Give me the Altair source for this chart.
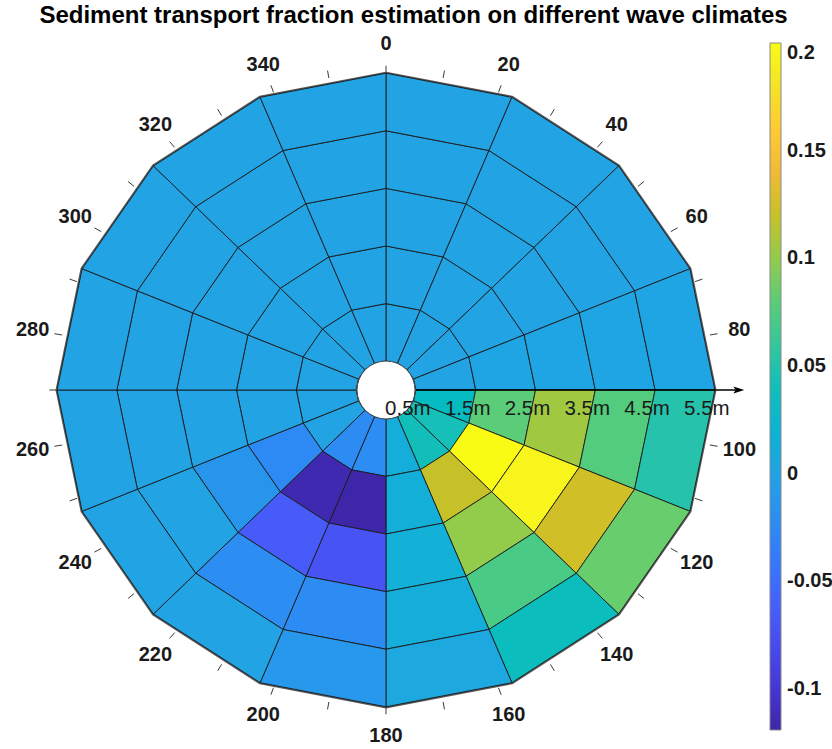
import math
import altair as alt
import pandas as pd

# Wave-direction sectors (degrees clockwise from north) and wave-height ring edges (m)
sector_start = [i * 22.5 for i in range(16)]
sector_width = 22.5
height_edges = [0.5, 1.5, 2.5, 3.5, 4.5, 5.5]
height_labels = ["0.5m", "1.5m", "2.5m", "3.5m", "4.5m", "5.5m"]

# Transport fraction per sector (rows) and wave-height bin (columns: 1, 2, 3, 4, 5 m)
fraction = [
    [0.000, 0.000, 0.000, 0.000, 0.000],      # 0 - 22.5
    [0.000, 0.000, 0.000, 0.000, 0.000],      # 22.5 - 45
    [0.000, 0.000, 0.000, 0.000, 0.000],      # 45 - 67.5
    [0.000, 0.003, 0.003, 0.003, 0.003],      # 67.5 - 90
    [0.035, 0.080, 0.105, 0.077, 0.050],      # 90 - 112.5
    [0.042, 0.200, 0.195, 0.124, 0.085],      # 112.5 - 135
    [0.040, 0.120, 0.100, 0.073, 0.038],      # 135 - 157.5
    [0.014, 0.015, 0.016, 0.014, 0.006],      # 157.5 - 180
    [-0.022, -0.119, -0.073, -0.024, -0.012], # 180 - 202.5
    [-0.024, -0.115, -0.066, -0.022, 0.000],  # 202.5 - 225
    [0.000, -0.025, -0.014, 0.000, 0.000],    # 225 - 247.5
    [0.000, 0.000, 0.000, 0.000, 0.000],      # 247.5 - 270
    [0.000, 0.000, 0.000, 0.000, 0.000],      # 270 - 292.5
    [0.000, 0.000, 0.000, 0.000, 0.000],      # 292.5 - 315
    [0.000, 0.000, 0.000, 0.000, 0.000],      # 315 - 337.5
    [0.000, 0.000, 0.000, 0.000, 0.000],      # 337.5 - 360
]

angle_ticks = list(range(0, 360, 10))
angle_labels = list(range(0, 360, 20))
colorbar_ticks = [-0.1, -0.05, 0, 0.05, 0.1, 0.15, 0.2]
color_domain = [-0.119, 0.2]

# parula colormap, 64 entries
parula = [
    (0.2422, 0.1504, 0.6603), (0.2504, 0.1650, 0.7076), (0.2578, 0.1818, 0.7511), (0.2647, 0.1978, 0.7952),
    (0.2706, 0.2147, 0.8364), (0.2751, 0.2342, 0.8710), (0.2783, 0.2559, 0.8991), (0.2803, 0.2782, 0.9221),
    (0.2813, 0.3006, 0.9414), (0.2810, 0.3228, 0.9579), (0.2795, 0.3447, 0.9717), (0.2760, 0.3667, 0.9829),
    (0.2699, 0.3892, 0.9906), (0.2602, 0.4123, 0.9952), (0.2440, 0.4358, 0.9988), (0.2206, 0.4603, 0.9973),
    (0.1963, 0.4847, 0.9892), (0.1834, 0.5074, 0.9798), (0.1786, 0.5289, 0.9682), (0.1764, 0.5499, 0.9520),
    (0.1687, 0.5703, 0.9359), (0.1540, 0.5902, 0.9218), (0.1460, 0.6091, 0.9079), (0.1380, 0.6276, 0.8973),
    (0.1248, 0.6459, 0.8883), (0.1113, 0.6635, 0.8763), (0.0952, 0.6798, 0.8598), (0.0689, 0.6948, 0.8394),
    (0.0297, 0.7082, 0.8163), (0.0036, 0.7203, 0.7917), (0.0067, 0.7312, 0.7660), (0.0433, 0.7411, 0.7394),
    (0.0964, 0.7500, 0.7120), (0.1408, 0.7584, 0.6842), (0.1717, 0.7670, 0.6554), (0.1938, 0.7758, 0.6251),
    (0.2161, 0.7843, 0.5923), (0.2470, 0.7918, 0.5567), (0.2906, 0.7973, 0.5188), (0.3406, 0.8008, 0.4789),
    (0.3909, 0.8029, 0.4354), (0.4456, 0.8024, 0.3909), (0.5044, 0.7993, 0.3480), (0.5616, 0.7942, 0.3045),
    (0.6174, 0.7876, 0.2612), (0.6720, 0.7793, 0.2227), (0.7242, 0.7698, 0.1910), (0.7738, 0.7598, 0.1646),
    (0.8203, 0.7498, 0.1535), (0.8634, 0.7406, 0.1596), (0.9035, 0.7330, 0.1774), (0.9393, 0.7288, 0.2100),
    (0.9728, 0.7298, 0.2394), (0.9956, 0.7434, 0.2371), (0.9970, 0.7659, 0.2199), (0.9952, 0.7893, 0.2028),
    (0.9892, 0.8136, 0.1885), (0.9786, 0.8386, 0.1766), (0.9676, 0.8639, 0.1643), (0.9610, 0.8890, 0.1537),
    (0.9597, 0.9135, 0.1423), (0.9628, 0.9373, 0.1265), (0.9691, 0.9606, 0.1064), (0.9769, 0.9839, 0.0805),
]
parula_hex = ["#%02x%02x%02x" % tuple(int(round(c * 255)) for c in rgb) for rgb in parula]

FONT = "Liberation Sans"
label_radius = 6.0
tick_inner, tick_outer = 5.5, 5.63
axis_end = 5.9


def polar(r, deg):
    a = math.radians(deg)
    return r * math.sin(a), r * math.cos(a)


# one closed polygon per (sector, height bin) cell
cell_rows = []
for s, a0 in enumerate(sector_start):
    a1 = a0 + sector_width
    for j in range(len(height_edges) - 1):
        r0, r1 = height_edges[j], height_edges[j + 1]
        corners = [(r0, a0), (r1, a0), (r1, a1), (r0, a1), (r0, a0)]
        for k, (r, a) in enumerate(corners):
            x, y = polar(r, a)
            cell_rows.append({"cell": f"{s}-{j}", "k": k, "x": x, "y": y,
                              "value": fraction[s][j]})
cells_df = pd.DataFrame(cell_rows)

outline_rows = []
for k, a in enumerate(sector_start + [360.0]):
    x, y = polar(height_edges[-1], a)
    outline_rows.append({"k": k, "x": x, "y": y})
outline_df = pd.DataFrame(outline_rows)

tick_rows = []
for a in angle_ticks:
    xa, ya = polar(tick_inner, a)
    xb, yb = polar(tick_outer, a)
    tick_rows.append({"x": xa, "y": ya, "x2": xb, "y2": yb})
ticks_df = pd.DataFrame(tick_rows)

alabel_rows = []
for a in angle_labels:
    x, y = polar(label_radius, a)
    alabel_rows.append({"x": x, "y": y, "text": str(a)})
alabels_df = pd.DataFrame(alabel_rows)

rlabels_df = pd.DataFrame({"x": height_edges, "y": [0.0] * len(height_edges),
                           "text": height_labels})

shaft_df = pd.DataFrame({"x": [height_edges[0]], "y": [0.0], "x2": [axis_end], "y2": [0.0]})
head_df = pd.DataFrame({"x": [axis_end], "y": [0.0]})
hole_df = pd.DataFrame({"x": [0.0], "y": [0.0]})

xs = alt.Scale(domain=[-6, 6], nice=False, zero=False)
ys = alt.Scale(domain=[-6, 6], nice=False, zero=False)
X = lambda f="x": alt.X(f"{f}:Q", scale=xs, axis=None)
Y = lambda f="y": alt.Y(f"{f}:Q", scale=ys, axis=None)

outline = alt.Chart(outline_df).mark_line(stroke="#5a5a5a", strokeWidth=3.2).encode(
    x=X(), y=Y(), order="k:Q")

cells = alt.Chart(cells_df).mark_line(
    filled=True, stroke="#1a1a1a", strokeWidth=0.9, strokeJoin="miter"
).encode(
    x=X(), y=Y(), order="k:Q", detail="cell:N",
    color=alt.Color(
        "value:Q",
        scale=alt.Scale(domain=color_domain, range=parula_hex, nice=False, zero=False),
        legend=alt.Legend(
            title=None, orient="none", direction="vertical",
            legendX=742.8, legendY=-1.4, padding=0,
            gradientLength=687, gradientThickness=11,
            gradientStrokeColor="#8a8a8a", gradientStrokeWidth=1,
            values=colorbar_ticks, labelExpr="'' + datum.value",
            labelFont=FONT, labelFontSize=20, labelFontWeight="bold",
            labelColor="#1a1a1a", labelOffset=6, labelBaseline="middle",
            labelOverlap=False,
        ),
    ),
)

hole = alt.Chart(hole_df).mark_point(
    shape="circle", filled=True, fill="white", stroke="#404040", strokeWidth=1,
    size=3364, opacity=1
).encode(x=X(), y=Y())

shaft = alt.Chart(shaft_df).mark_rule(color="black", strokeWidth=1.3).encode(
    x=X(), y=Y(), x2="x2:Q", y2="y2:Q")

head = alt.Chart(head_df).mark_point(
    shape="M 1 0 L -1 -0.62 L -0.55 0 L -1 0.62 Z", filled=True, color="black",
    size=121, opacity=1
).encode(x=X(), y=Y())

ticks = alt.Chart(ticks_df).mark_rule(color="#3a3a3a", strokeWidth=1).encode(
    x=X(), y=Y(), x2="x2:Q", y2="y2:Q")

alabels = alt.Chart(alabels_df).mark_text(
    font=FONT, fontSize=20, fontWeight="bold", color="#1a1a1a",
    align="center", baseline="middle"
).encode(x=X(), y=Y(), text="text:N")

rlabels = alt.Chart(rlabels_df).mark_text(
    font=FONT, fontSize=20.5, color="#1a1a1a", align="center", baseline="middle",
    dx=-8, dy=19
).encode(x=X(), y=Y(), text="text:N")

chart = alt.layer(outline, cells, hole, shaft, head, ticks, alabels, rlabels).properties(
    width=717.6,
    height=691.2,
    background="white",
    title=alt.TitleParams(
        "Sediment transport fraction estimation on different wave climates",
        font=FONT, fontSize=24, fontWeight="bold", color="black",
        anchor="middle", frame="group", dx=27.5, offset=6,
    ),
    autosize=alt.AutoSizeParams(type="none"),
    padding={"left": 27.2, "top": 44.4, "right": 87.2, "bottom": 13.4},
).configure_view(strokeWidth=0, stroke=None)

chart.save("out.html", embed_options={"renderer": "svg", "actions": False})
